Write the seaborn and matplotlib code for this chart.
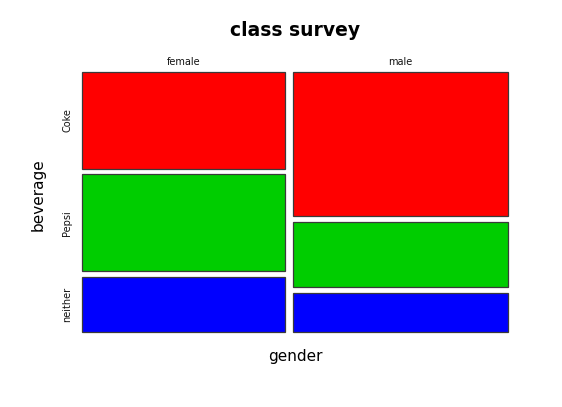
import numpy as np
import pandas as pd
import matplotlib
matplotlib.use("Agg")
import matplotlib.pyplot as plt
import seaborn as sns

# counts
genders = ["female", "male"]
beverages = ["Coke", "Pepsi", "neither"]
female_counts = [7, 7, 4]
male_counts = [11, 5, 3]
bev_colors = ["#ff0000", "#00cd00", "#0000ff"]

sns.set_style("white")
plt.rcParams["text.color"] = "black"

df = pd.DataFrame({"female": female_counts, "male": male_counts}, index=beverages)

fig = plt.figure(figsize=(5.62, 4.07), dpi=100)
ax = fig.add_axes([0.1459, 0.1843, 0.9039 - 0.1459, 0.823 - 0.1843])

gap_x = 0.0188
gap_y = 0.021
col_tot = df.sum(axis=0)
col_w = col_tot / col_tot.sum() * (1 - gap_x * (len(genders) - 1))

x0 = 0.0
for g in genders:
    w = col_w[g]
    fr = df[g] / col_tot[g] * (1 - gap_y * (len(beverages) - 1))
    y = 0.0
    # stack from the bottom: neither, Pepsi, Coke
    for i in range(len(beverages) - 1, -1, -1):
        b = beverages[i]
        bars = ax.bar(x0, fr[b], width=w, bottom=y, align="edge",
                      color=bev_colors[i], edgecolor="#3a3a3a", linewidth=0.9)
        for p in bars:
            p.set_clip_on(False)
        if g == genders[0]:
            ax.text(-0.035, y + fr[b] / 2, b, rotation=90, ha="center",
                    va="center", fontsize=7, color="#111111")
        y += fr[b] + gap_y
    ax.text(x0 + w / 2, 1.02, g, ha="center", va="bottom",
            fontsize=7, color="#111111")
    x0 += w + gap_x

ax.set_xlim(0, 1)
ax.set_ylim(0, 1)
ax.axis("off")

fig.text(0.525, 0.924, "class survey", ha="center", va="center",
         fontsize=13.5, fontweight="bold")
fig.text(0.525, 0.125, "gender", ha="center", va="center", fontsize=11)
fig.text(0.068, 0.521, "beverage", ha="center", va="center",
         rotation=90, fontsize=11)

fig.savefig("out.png", dpi=100)
